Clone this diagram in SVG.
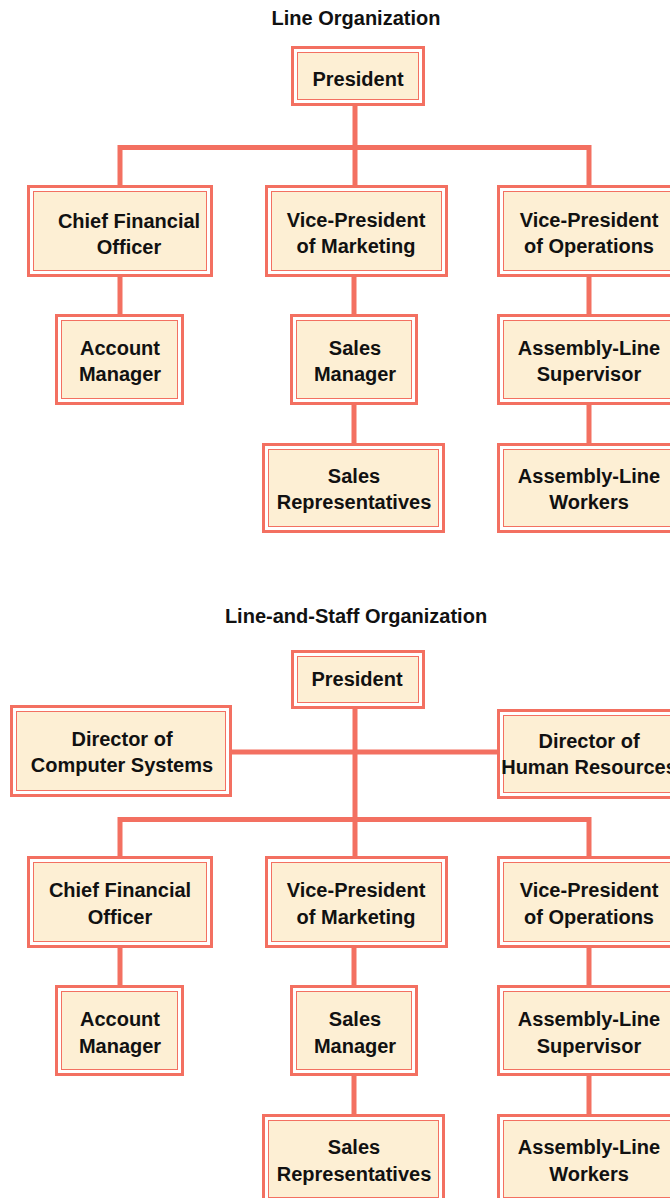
<svg xmlns="http://www.w3.org/2000/svg" width="670" height="1198" viewBox="0 0 670 1198">
<style>
.o{fill:#fff;stroke:#f37061;stroke-width:3}
.i{fill:#fdefd4;stroke:#f37061;stroke-width:1}
text{font-family:"Liberation Sans",Arial,sans-serif;font-weight:bold;font-size:20px;fill:#111;text-anchor:middle}
.c{stroke:#f37061;stroke-width:5;fill:none}
</style>
<rect width="670" height="1198" fill="#fff"/>
<text x="356" y="25">Line Organization</text>
<text x="356" y="623">Line-and-Staff Organization</text>
<g id="connectors">
<path class="c" d="M355 106V148M117.5 147.5H591.5M120 147V185M355 147V185M589 147V185"/>
<path class="c" d="M120 277V314M354 277V314M354 405V443M589 277V314M589 405V443"/>
<path class="c" d="M355 709V820M232 752H497M117.5 819.5H591.5M120 819V856M355 819V856M589 819V856"/>
<path class="c" d="M120 948V985M354 948V985M354 1076V1114M589 948V985M589 1076V1114"/>
</g>
<g id="president1"><rect class="o" x="292.5" y="47.5" width="131" height="57"/><rect class="i" x="297.5" y="52.5" width="121" height="47"/><text x="358" y="86">President</text></g>
<g id="cfo1"><rect class="o" x="28.5" y="186.5" width="183" height="89"/><rect class="i" x="33.5" y="191.5" width="173" height="79"/><text x="129" y="228">Chief Financial</text><text x="129" y="254">Officer</text></g>
<g id="vpm1"><rect class="o" x="266.5" y="186.5" width="180" height="89"/><rect class="i" x="271.5" y="191.5" width="170" height="79"/><text x="356" y="227">Vice-President</text><text x="356" y="253">of Marketing</text></g>
<g id="vpo1"><rect class="o" x="498.5" y="186.5" width="181" height="89"/><rect class="i" x="503.5" y="191.5" width="171" height="79"/><text x="589" y="227">Vice-President</text><text x="589" y="253">of Operations</text></g>
<g id="am1"><rect class="o" x="56.5" y="315.5" width="126" height="88"/><rect class="i" x="61.5" y="320.5" width="116" height="78"/><text x="120" y="355">Account</text><text x="120" y="381">Manager</text></g>
<g id="sm1"><rect class="o" x="291.5" y="315.5" width="125" height="88"/><rect class="i" x="296.5" y="320.5" width="115" height="78"/><text x="355" y="355">Sales</text><text x="355" y="381">Manager</text></g>
<g id="als1"><rect class="o" x="498.5" y="315.5" width="181" height="88"/><rect class="i" x="503.5" y="320.5" width="171" height="78"/><text x="589" y="355">Assembly-Line</text><text x="589" y="381">Supervisor</text></g>
<g id="sr1"><rect class="o" x="263.5" y="444.5" width="180" height="87"/><rect class="i" x="268.5" y="449.5" width="170" height="77"/><text x="354" y="483">Sales</text><text x="354" y="509">Representatives</text></g>
<g id="alw1"><rect class="o" x="498.5" y="444.5" width="181" height="87"/><rect class="i" x="503.5" y="449.5" width="171" height="77"/><text x="589" y="483">Assembly-Line</text><text x="589" y="509">Workers</text></g>
<g id="president2"><rect class="o" x="292.5" y="651.5" width="131" height="56"/><rect class="i" x="297.5" y="656.5" width="121" height="46"/><text x="357" y="686">President</text></g>
<g id="dcs2"><rect class="o" x="11.5" y="706.5" width="219" height="89"/><rect class="i" x="16.5" y="711.5" width="209" height="79"/><text x="122" y="746">Director of</text><text x="122" y="772">Computer Systems</text></g>
<g id="dhr2"><rect class="o" x="498.5" y="710.5" width="181" height="87"/><rect class="i" x="503.5" y="715.5" width="171" height="77"/><text x="589" y="748">Director of</text><text x="589" y="774">Human Resources</text></g>
<g id="cfo2"><rect class="o" x="28.5" y="857.5" width="183" height="89"/><rect class="i" x="33.5" y="862.5" width="173" height="79"/><text x="120" y="897">Chief Financial</text><text x="120" y="924">Officer</text></g>
<g id="vpm2"><rect class="o" x="266.5" y="857.5" width="180" height="89"/><rect class="i" x="271.5" y="862.5" width="170" height="79"/><text x="356" y="897">Vice-President</text><text x="356" y="924">of Marketing</text></g>
<g id="vpo2"><rect class="o" x="498.5" y="857.5" width="181" height="89"/><rect class="i" x="503.5" y="862.5" width="171" height="79"/><text x="589" y="897">Vice-President</text><text x="589" y="924">of Operations</text></g>
<g id="am2"><rect class="o" x="56.5" y="986.5" width="126" height="88"/><rect class="i" x="61.5" y="991.5" width="116" height="78"/><text x="120" y="1026">Account</text><text x="120" y="1053">Manager</text></g>
<g id="sm2"><rect class="o" x="291.5" y="986.5" width="125" height="88"/><rect class="i" x="296.5" y="991.5" width="115" height="78"/><text x="355" y="1026">Sales</text><text x="355" y="1053">Manager</text></g>
<g id="als2"><rect class="o" x="498.5" y="986.5" width="181" height="88"/><rect class="i" x="503.5" y="991.5" width="171" height="78"/><text x="589" y="1026">Assembly-Line</text><text x="589" y="1053">Supervisor</text></g>
<g id="sr2"><rect class="o" x="263.5" y="1115.5" width="180" height="87"/><rect class="i" x="268.5" y="1120.5" width="170" height="77"/><text x="354" y="1154">Sales</text><text x="354" y="1181">Representatives</text></g>
<g id="alw2"><rect class="o" x="498.5" y="1115.5" width="181" height="87"/><rect class="i" x="503.5" y="1120.5" width="171" height="77"/><text x="589" y="1154">Assembly-Line</text><text x="589" y="1181">Workers</text></g>
</svg>
